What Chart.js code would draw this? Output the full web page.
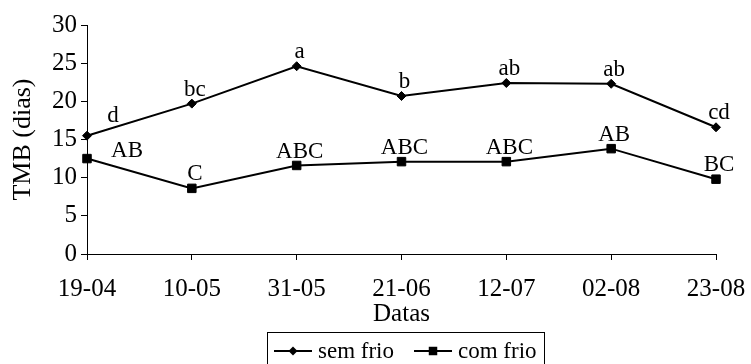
<!DOCTYPE html>
<html>
<head>
<meta charset="utf-8">
<script src="https://cdn.jsdelivr.net/npm/chart.js@4"></script>
<style>html,body{margin:0;padding:0;background:#fff}</style>
</head>
<body>
<canvas id="tmbChart" width="751" height="364"></canvas>
<script>
const datas = ["19-04", "10-05", "31-05", "21-06", "12-07", "02-08", "23-08"];
const semFrio = [15.5, 19.7, 24.6, 20.7, 22.4, 22.3, 16.6];
const comFrio = [12.5, 8.6, 11.6, 12.1, 12.1, 13.8, 9.8];
const semFrioLetras = ["d", "bc", "a", "b", "ab", "ab", "cd"];
const comFrioLetras = ["AB", "C", "ABC", "ABC", "ABC", "AB", "BC"];
const yTicks = [0, 5, 10, 15, 20, 25, 30];

const FONT = "'Liberation Serif', 'Times New Roman', serif";

// draws a diamond or square marker like the ones on the lines
function marker(ctx, style, r, x, y) {
  ctx.beginPath();
  if (style === "rect") {
    const s = r * Math.SQRT1_2;
    ctx.rect(x - s, y - s, 2 * s, 2 * s);
  } else {
    ctx.moveTo(x, y - r);
    ctx.lineTo(x + r, y);
    ctx.lineTo(x, y + r);
    ctx.lineTo(x - r, y);
    ctx.closePath();
  }
  ctx.fill();
}

const letterPlugin = {
  id: "letters",
  afterDatasetsDraw(chart) {
    const ctx = chart.ctx;
    ctx.save();
    ctx.font = `23px ${FONT}`;
    ctx.fillStyle = "#000";
    ctx.textAlign = "center";
    ctx.textBaseline = "middle";
    chart.data.datasets.forEach((ds, d) => {
      chart.getDatasetMeta(d).data.forEach((pt, i) => {
        const n = i === 0 ? ds.firstNudge : [3, -14];
        ctx.fillText(ds.letters[i], pt.x + n[0], pt.y + n[1]);
      });
    });
    ctx.restore();
  }
};

const legendPlugin = {
  id: "boxLegend",
  afterDraw(chart) {
    const ctx = chart.ctx;
    ctx.save();
    ctx.font = `23px ${FONT}`;
    const items = chart.data.datasets.map((ds) => ({ ds, w: ctx.measureText(ds.label).width }));
    const lineLen = 38, gap = 6, itemGap = 20, padX = 7;
    const total = items.reduce((s, it) => s + lineLen + gap + it.w, 0) + itemGap * (items.length - 1) + 2 * padX;
    const cx = (chart.chartArea.left + chart.chartArea.right) / 2 + 4;
    const top = 332, h = 34;
    let x = Math.round(cx - total / 2);
    ctx.strokeStyle = "#000";
    ctx.fillStyle = "#000";
    ctx.lineWidth = 1;
    ctx.strokeRect(x + 0.5, top + 0.5, Math.round(total), h);
    x += padX;
    const cy = 351;
    ctx.textBaseline = "middle";
    items.forEach((it) => {
      ctx.lineWidth = 2;
      ctx.beginPath();
      ctx.moveTo(x, cy);
      ctx.lineTo(x + lineLen, cy);
      ctx.stroke();
      marker(ctx, it.ds.pointStyle, it.ds.pointStyle === "rect" ? 6 : 4.5, x + lineLen / 2, cy);
      x += lineLen + gap;
      ctx.fillText(it.ds.label, x, cy + 1);
      x += it.w + itemGap;
    });
    ctx.restore();
  }
};

new Chart(document.getElementById("tmbChart"), {
  type: "line",
  data: {
    labels: datas,
    datasets: [
      {
        label: "sem frio",
        data: semFrio,
        letters: semFrioLetras,
        firstNudge: [26, -20],
        borderColor: "#000",
        backgroundColor: "#000",
        borderWidth: 2,
        pointStyle: "rectRot",
        pointRadius: 4.5,
        pointBorderWidth: 1,
        tension: 0,
        fill: false,
      },
      {
        label: "com frio",
        data: comFrio,
        letters: comFrioLetras,
        firstNudge: [40, -8],
        borderColor: "#000",
        backgroundColor: "#000",
        borderWidth: 2,
        pointStyle: "rect",
        pointRadius: 6,
        pointBorderWidth: 1,
        tension: 0,
        fill: false,
      },
    ],
  },
  options: {
    responsive: false,
    animation: false,
    layout: { padding: { top: 25, right: 35, bottom: 30, left: 0 } },
    plugins: { legend: { display: false }, tooltip: { enabled: false } },
    scales: {
      x: {
        offset: false,
        grid: { drawOnChartArea: false, drawTicks: true, tickLength: 6, color: "#000" },
        border: { color: "#000", width: 1 },
        ticks: { color: "#000", font: { family: FONT, size: 25 }, padding: 14, maxRotation: 0, autoSkip: false },
        title: { display: true, text: "Datas", color: "#000", font: { family: FONT, size: 25, lineHeight: 1 }, padding: { top: 0, bottom: 7 } },
        afterFit(s) { s.height = 80; s.paddingLeft = 0; s.paddingRight = 0; },
      },
      y: {
        min: 0,
        max: 30,
        afterBuildTicks(s) { s.ticks = yTicks.map((v) => ({ value: v })); },
        grid: { drawOnChartArea: false, drawTicks: true, tickLength: 6, color: "#000" },
        border: { color: "#000", width: 1 },
        ticks: { color: "#000", font: { family: FONT, size: 25 }, padding: 4 },
        title: { display: true, text: "TMB (dias)", color: "#000", font: { family: FONT, size: 26, lineHeight: 1 }, padding: { top: 10, bottom: 0 } },
        afterFit(s) { s.width = 87; s.paddingTop = 0; s.paddingBottom = 0; },
      },
    },
  },
  plugins: [letterPlugin, legendPlugin],
});
</script>
</body>
</html>
